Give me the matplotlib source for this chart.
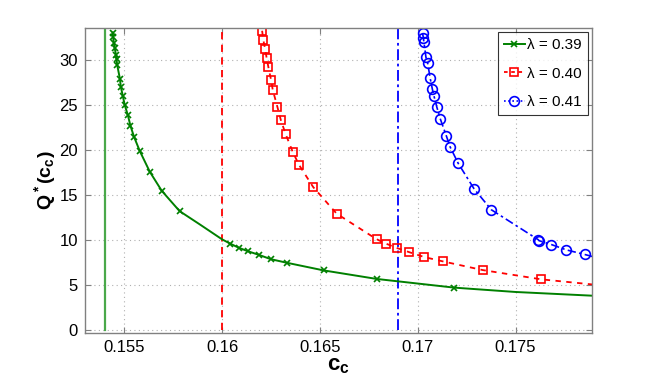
import matplotlib
matplotlib.use("Agg")
import matplotlib.pyplot as plt

# ------------------------------------------------------------
# Data
# ------------------------------------------------------------
# lambda = 0.39 (markers)
c_39 = [0.15441, 0.15444, 0.15447, 0.15452, 0.15458, 0.15461, 0.15464, 0.15478,
        0.15483, 0.15493, 0.15503, 0.15519, 0.15532, 0.15551, 0.15580, 0.15631,
        0.15692, 0.15783, 0.16042, 0.16085, 0.16132, 0.16188, 0.16249, 0.16331,
        0.16520, 0.16792, 0.17188]
q_39 = [33.03, 32.48, 31.92, 31.26, 30.59, 30.04, 29.48, 27.93,
        27.01, 26.01, 24.98, 23.87, 22.69, 21.43, 19.88, 17.59,
        15.48, 13.23, 9.62, 9.17, 8.78, 8.38, 7.90, 7.50,
        6.65, 5.70, 4.74]
# extra points on the green line between / after markers
c_39_line = [0.15886, 0.16000, 0.17500, 0.17900]
q_39_line = [11.76, 10.10, 4.26, 3.84]

# lambda = 0.40
c_40 = [0.16205, 0.16211, 0.16220, 0.16228, 0.16237, 0.16251, 0.16259, 0.16283,
        0.16301, 0.16325, 0.16361, 0.16393, 0.16466, 0.16586, 0.16790, 0.16837,
        0.16892, 0.16956, 0.17034, 0.17129, 0.17332, 0.17632]
q_40 = [33.22, 32.22, 31.22, 30.22, 29.19, 27.74, 26.70, 24.78,
        23.30, 21.78, 19.81, 18.37, 15.89, 12.94, 10.11, 9.63,
        9.15, 8.68, 8.13, 7.65, 6.69, 5.66]
c_40_line = [0.17900]
q_40_line = [5.08]

# lambda = 0.41
c_41 = [0.17025, 0.17029, 0.17032, 0.17042, 0.17051, 0.17063, 0.17075, 0.17083,
        0.17098, 0.17115, 0.17146, 0.17166, 0.17207, 0.17288, 0.17376, 0.17615,
        0.17620, 0.17683, 0.17759, 0.17853]
q_41 = [32.96, 32.41, 31.93, 30.30, 29.63, 28.04, 26.74, 26.00,
        24.74, 23.48, 21.59, 20.33, 18.52, 15.70, 13.38, 10.07,
        9.95, 9.52, 8.93, 8.42]
c_41_line = [0.17900]
q_41_line = [8.15]

# asymptotes
c_asym = [0.154, 0.160, 0.169]
labels = ["λ = 0.39", "λ = 0.40", "λ = 0.41"]

xticks = [0.155, 0.16, 0.165, 0.17, 0.175]
xticklabels = ["0.155", "0.16", "0.165", "0.17", "0.175"]
yticks = [0, 5, 10, 15, 20, 25, 30]


def main():
    plt.rcParams["font.family"] = ["Liberation Sans", "DejaVu Sans"]
    plt.rcParams["mathtext.fontset"] = "custom"
    plt.rcParams["mathtext.rm"] = "Liberation Sans"
    plt.rcParams["mathtext.bf"] = "Liberation Sans:bold"

    fig = plt.figure(figsize=(6.54, 3.82), dpi=100)
    ax = fig.add_axes([0.130, 0.128, 0.775, 0.798])

    green = "#008000"
    red = "#ff0000"
    blue = "#0000ff"

    # ------------------------------------------------------------
    # Asymptotes
    # ------------------------------------------------------------
    ax.plot([c_asym[0], c_asym[0]], [0, 40], color="#4aa84a", lw=1.6)
    ax.plot([c_asym[1], c_asym[1]], [0, 40], color=red, lw=1.3, ls=(0, (4, 3)))
    ax.plot([c_asym[2], c_asym[2]], [0, 40], color=blue, lw=1.3,
            ls=(0, (6, 2, 1.5, 2)))

    # ------------------------------------------------------------
    # Curves
    # ------------------------------------------------------------
    pts = sorted(zip(c_39 + c_39_line, q_39 + q_39_line))
    ax.plot([p[0] for p in pts], [p[1] for p in pts], color=green, lw=1.4)
    ax.plot(c_39, q_39, ls="none", marker="x", ms=5, mew=1.2, color=green)

    ax.plot(c_40 + c_40_line, q_40 + q_40_line, color=red, lw=1.3,
            ls=(0, (3, 3)))
    ax.plot(c_40, q_40, ls="none", marker="s", ms=5.5, mew=1.2, mfc="none",
            color=red)

    ax.plot(c_41 + c_41_line, q_41 + q_41_line, color=blue, lw=1.2,
            ls=(0, (5, 2, 1.5, 2)))
    ax.plot(c_41, q_41, ls="none", marker="o", ms=7, mew=1.2, mfc="none",
            color=blue)

    # ------------------------------------------------------------
    # Legend
    # ------------------------------------------------------------
    h1, = ax.plot([], [], color=green, lw=1.4, marker="x", ms=5, mew=1.2)
    h2, = ax.plot([], [], color=red, lw=1.3, ls=(0, (2, 2)), marker="s",
                  ms=5.5, mew=1.2, mfc="none")
    h3, = ax.plot([], [], color=blue, lw=1.2, ls=(0, (1, 1.5)),
                  marker="o", ms=7, mew=1.2, mfc="none")
    leg = ax.legend([h1, h2, h3], labels, loc="upper right", fontsize=11,
                    frameon=True, fancybox=False, handlelength=1.4,
                    handletextpad=0.15, borderpad=0.4, labelspacing=0.95,
                    borderaxespad=0.25)
    leg.get_frame().set_edgecolor("black")
    leg.get_frame().set_linewidth(0.8)

    # ------------------------------------------------------------
    # Axes styling
    # ------------------------------------------------------------
    ax.set_xlim(0.153, 0.1789)
    ax.set_ylim(-0.3, 33.5)
    ax.set_xticks(xticks)
    ax.set_xticklabels(xticklabels)
    ax.set_yticks(yticks)
    ax.tick_params(direction="in", top=True, right=True, length=4,
                   labelsize=12, color="#808080", pad=5)
    for sp in ax.spines.values():
        sp.set_color("#808080")
        sp.set_linewidth(1.0)
    ax.grid(True, ls=(0, (1, 3)), color="#b0b0b0", lw=0.8)
    ax.set_axisbelow(True)

    ax.set_xlabel(r"$\mathbf{c_c}$", fontsize=16, labelpad=0)
    ax.set_ylabel(r"$\mathbf{Q^*(c_c)}$", fontsize=14, labelpad=1)

    fig.savefig("out.png", dpi=100)


if __name__ == "__main__":
    main()
